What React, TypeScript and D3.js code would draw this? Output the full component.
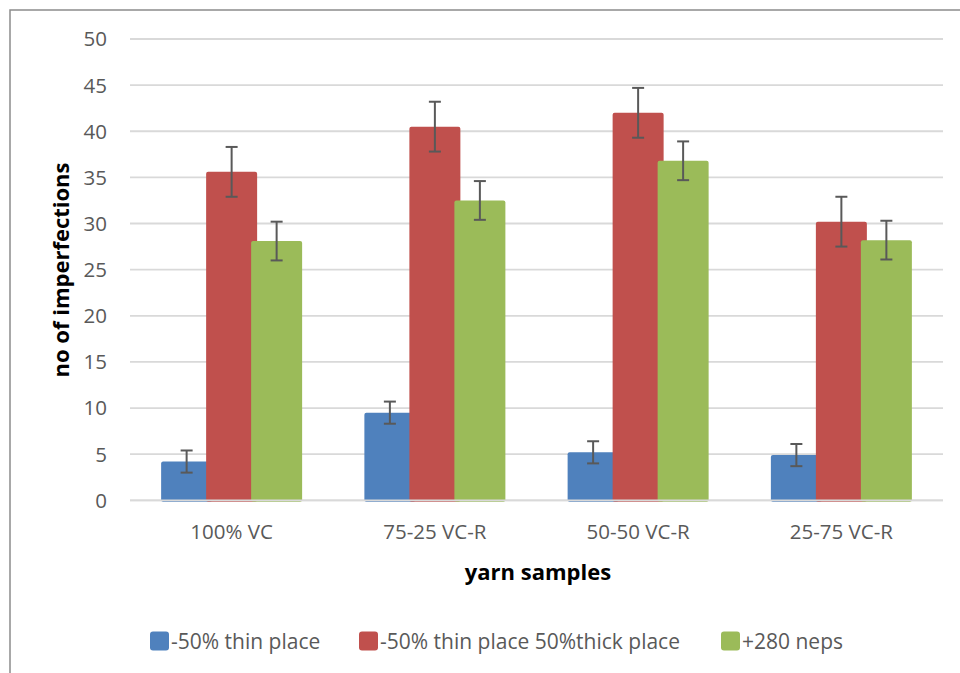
import * as d3 from 'd3';

const categories = ['100% VC', '75-25 VC-R', '50-50 VC-R', '25-75 VC-R'];
const seriesNames = ['-50% thin place', '-50% thin place 50%thick place', '+280 neps'];
const thinPlace = [4.2, 9.5, 5.2, 4.9];
const thinThickPlace = [35.6, 40.5, 42.0, 30.2];
const neps = [28.1, 32.5, 36.8, 28.2];
const thinErr = [1.2, 1.2, 1.2, 1.2];
const thinThickErr = [2.7, 2.7, 2.7, 2.7];
const nepsErr = [2.1, 2.1, 2.1, 2.1];
const yTicks = [0, 5, 10, 15, 20, 25, 30, 35, 40, 45, 50];
const colors = ['#4F81BD', '#C0504D', '#9BBB59'];

const seriesValues = [thinPlace, thinThickPlace, neps];
const seriesErrors = [thinErr, thinThickErr, nepsErr];

const FONT = "'Open Sans', 'Noto Sans', sans-serif";
const TEXT = '#595959';

export default function App() {
  const width = 960;
  const height = 673;
  const plot = { left: 130, right: 943, top: 39, bottom: 500.3 };

  const y = d3.scaleLinear().domain([0, 50]).range([plot.bottom, plot.top]);
  const x0 = d3.scaleBand().domain(categories).range([plot.left, plot.right]);
  const x1 = d3.scaleBand().domain(seriesNames).range([-67.5, 67.5]);
  const barW = 51;

  const center = (ci: number, si: number) =>
    x0(categories[ci])! + x0.bandwidth() / 2 + x1(seriesNames[si])! + x1.bandwidth() / 2;

  const legendX = [150, 359, 721];

  return (
    <svg
      width={width}
      height={height}
      style={{ position: 'absolute', left: 0, top: 0, background: '#fff' }}
      fontFamily={FONT}
    >
      <rect x={10} y={10} width={1000} height={700} fill="#fff" stroke="#8c8c8c" strokeWidth={1.5} />

      {/* gridlines */}
      {yTicks.map(t => (
        <line key={t} x1={plot.left} x2={plot.right} y1={y(t)} y2={y(t)} stroke="#d9d9d9" strokeWidth={1.8} />
      ))}

      {/* y tick labels */}
      {yTicks.map(t => (
        <text key={'l' + t} x={107} y={y(t)} dy="0.36em" textAnchor="end" fontSize={20.5} fill={TEXT}>
          {t}
        </text>
      ))}

      {/* bars */}
      {seriesValues.map((vals, si) =>
        vals.map((v, ci) => (
          <rect
            key={`b${si}-${ci}`}
            x={center(ci, si) - barW / 2}
            y={y(v)}
            width={barW}
            height={y(0) - y(v) + 1.5}
            rx={2}
            fill={colors[si]}
          />
        ))
      )}

      {/* zero line over bars */}
      <line x1={plot.left} x2={plot.right} y1={y(0)} y2={y(0)} stroke="#d9d9d9" strokeWidth={1.8} />

      {/* error bars */}
      {seriesValues.map((vals, si) =>
        vals.map((v, ci) => {
          const cx = center(ci, si);
          const e = seriesErrors[si][ci];
          return (
            <g key={`e${si}-${ci}`} stroke="#595959" strokeWidth={2}>
              <line x1={cx} x2={cx} y1={y(v + e)} y2={y(v - e)} />
              <line x1={cx - 6} x2={cx + 6} y1={y(v + e)} y2={y(v + e)} />
              <line x1={cx - 6} x2={cx + 6} y1={y(v - e)} y2={y(v - e)} />
            </g>
          );
        })
      )}

      {/* x labels */}
      {categories.map(c => (
        <text key={c} x={x0(c)! + x0.bandwidth() / 2} y={532} dy="0.36em" textAnchor="middle" fontSize={20.5} fill={TEXT}>
          {c}
        </text>
      ))}

      {/* axis titles */}
      <text x={538} y={572} dy="0.36em" textAnchor="middle" fontSize={22} fontWeight="bold" fill="#000">
        yarn samples
      </text>
      <text
        transform={`translate(61,270) rotate(-90)`}
        dy="0.36em"
        textAnchor="middle"
        fontSize={22}
        fontWeight="bold"
        fill="#000"
      >
        no of imperfections
      </text>

      {/* legend */}
      {seriesNames.map((s, i) => (
        <g key={s} transform={`translate(${legendX[i]},641)`}>
          <rect x={0} y={-9.5} width={19} height={19} rx={3} fill={colors[i]} />
          <text x={21} y={0} dy="0.36em" fontSize={21} fill={TEXT}>
            {s}
          </text>
        </g>
      ))}
    </svg>
  );
}
